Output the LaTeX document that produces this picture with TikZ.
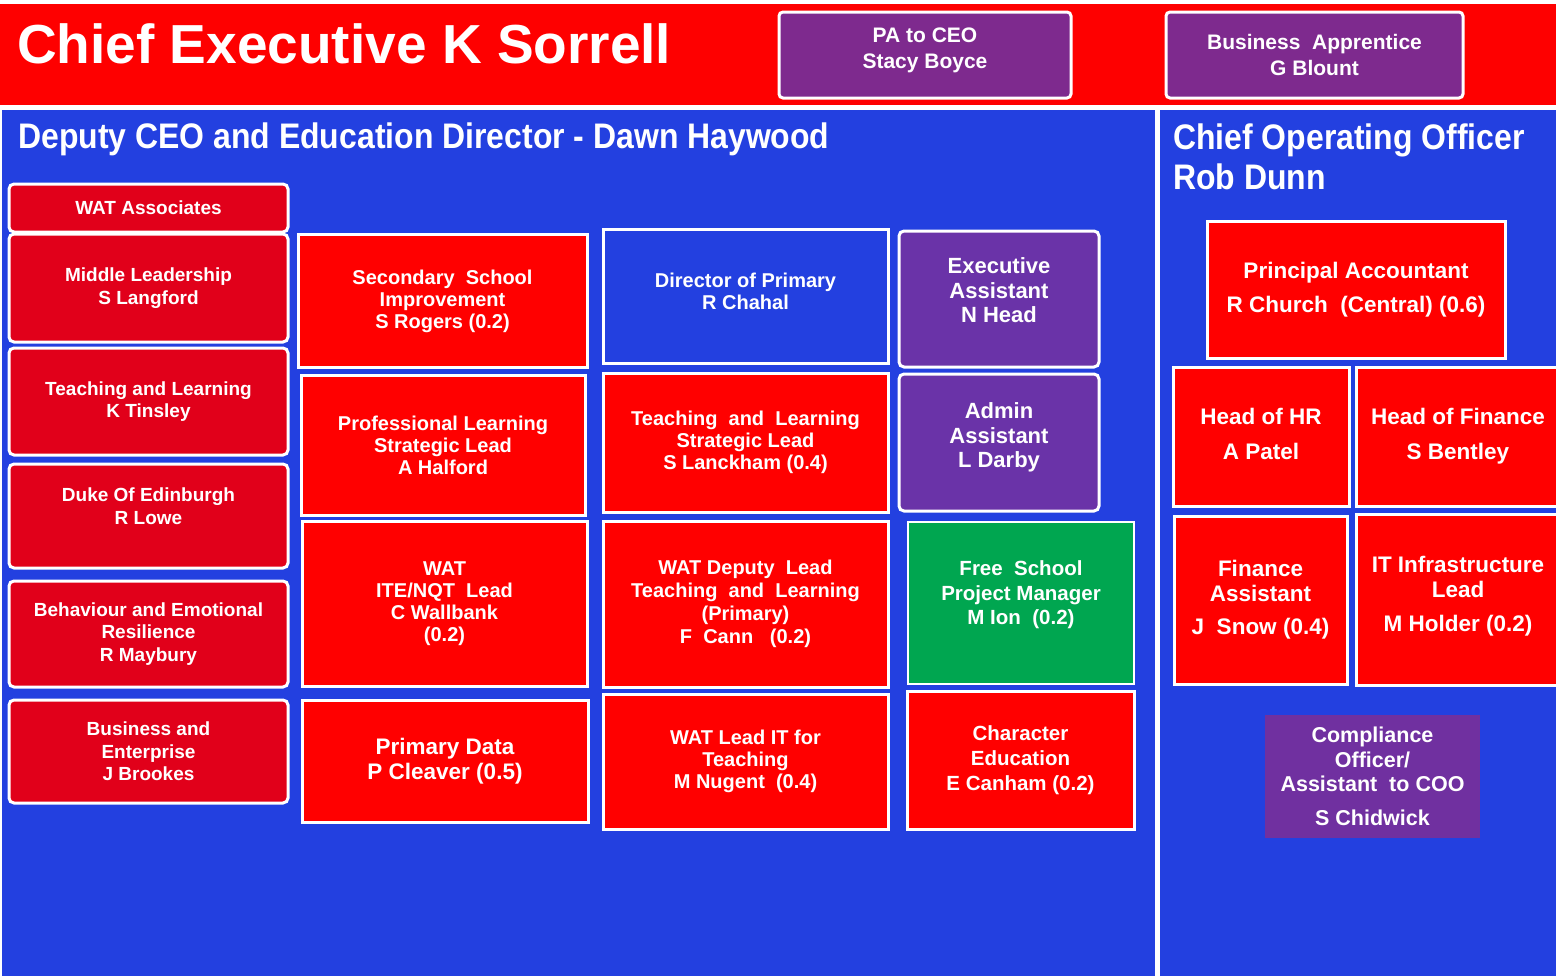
\documentclass[tikz,border=0pt]{standalone}
\usepackage{fontspec}
\setmainfont{Liberation Sans}
\newfontfamily\narrowfont{Liberation Sans}[FakeStretch=0.9]
\usetikzlibrary{positioning}

\definecolor{bandred}{HTML}{FE0000}
\definecolor{panelblue}{HTML}{2340E0}
\definecolor{crimson}{HTML}{E1001A}
\definecolor{boxred}{HTML}{FF0000}
\definecolor{plum}{HTML}{7E2A8E}
\definecolor{asstviolet}{HTML}{6A33A8}
\definecolor{schoolgreen}{HTML}{00A650}
\definecolor{coopurple}{HTML}{7030A0}

\tikzset{
  boxsize/.style 2 args={minimum width=#1pt, minimum height=#2pt},
  lift/.style={text depth=#1pt},
  box/.style={draw=white, line width=3pt, text=white, align=center, inner sep=0pt,
              font=\bfseries\fontsize{20}{22}\selectfont},
  leftbox/.style={box, fill=crimson, rounded corners=5pt, font=\bfseries\fontsize{19}{22.5}\selectfont},
  redbox/.style={box, fill=boxred},
  bluebox/.style={box, fill=panelblue},
  asstbox/.style={box, fill=asstviolet, rounded corners=5pt, font=\bfseries\fontsize{22}{24.5}\selectfont},
  topbox/.style={box, fill=plum, rounded corners=4pt, font=\bfseries\fontsize{21}{26}\selectfont},
  coobox/.style={box, fill=boxred, font=\bfseries\fontsize{22.5}{25}\selectfont},
  heading/.style={text=white, inner sep=0pt, anchor=base west,
                  font=\narrowfont\bfseries\fontsize{35.5}{40}\selectfont},
}

\begin{document}
\begin{tikzpicture}[x=1pt, y=-1pt]
  \useasboundingbox (0,0) rectangle (1556,980);
  % background bands
  \fill[white] (0,0) rectangle (1556,980);
  \fill[bandred] (0,4) rectangle (1556,105);
  \fill[panelblue] (2,110) rectangle (1155,976);
  \fill[panelblue] (1160,110) rectangle (1556,976);

  % chief executive band
  \node[anchor=base west, inner sep=0pt, text=white, font=\bfseries\fontsize{55}{60}\selectfont]
    (ceo) at (17,63) {Chief Executive K Sorrell};
  \node[topbox, boxsize={292}{86}, lift=14] (pa) at (925,55) {PA to CEO\\Stacy Boyce};
  \node[topbox, boxsize={297}{86}] (apprentice) at (1314.5,55) {Business~~Apprentice\\G Blount};

  % headings
  \node[heading] (deputy) at (18,148) {Deputy CEO and Education Director - Dawn Haywood};
  \node[heading] (cootitle) at (1173,149) {Chief Operating Officer};
  \node[heading] (cooname) at (1173,189) {Rob Dunn};

  % left column
  \node[leftbox, boxsize={279}{48}] (associates) at (148.5,208) {WAT Associates};
  \node[leftbox, boxsize={279}{108}] (middle) at (148.5,288) {Middle Leadership\\S Langford};
  \node[leftbox, boxsize={279}{107}] (tinsley) at (148.5,401.5) {Teaching and Learning\\K Tinsley};
  \node[leftbox, boxsize={279}{104}, lift=20] (duke) at (148.5,516) {Duke Of Edinburgh\\R Lowe};
  \node[leftbox, boxsize={279}{106}] (behaviour) at (148.5,634) {Behaviour and Emotional\\Resilience\\R Maybury};
  \node[leftbox, boxsize={279}{103}] (enterprise) at (148.5,751.5) {Business and\\Enterprise\\J Brookes};

  % second column
  \node[redbox, boxsize={289}{133}] (secondary) at (442.5,301) {Secondary~~School\\Improvement\\S Rogers (0.2)};
  \node[redbox, boxsize={284}{140}] (halford) at (443,445) {Professional Learning\\Strategic Lead\\A Halford};
  \node[redbox, boxsize={285}{165}] (itenqt) at (444.5,603.5) {WAT\\ITE/NQT~~Lead\\C Wallbank\\(0.2)};
  \node[redbox, boxsize={286}{122}, font=\bfseries\fontsize{22.5}{25}\selectfont]
    (primdata) at (445,761) {Primary Data\\P Cleaver (0.5)};

  % third column
  \node[bluebox, boxsize={285}{134}, lift=10] (dirprimary) at (745.5,296) {Director of Primary\\R Chahal};
  \node[redbox, boxsize={285}{139}] (lanckham) at (745.5,442.5) {Teaching~ and~ Learning\\Strategic Lead\\S Lanckham (0.4)};
  \node[redbox, boxsize={285}{166}, font=\bfseries\fontsize{20}{23}\selectfont]
    (cann) at (745.5,604) {WAT Deputy~ Lead\\Teaching~ and~ Learning\\(Primary)\\F~ Cann~~ (0.2)};
  \node[redbox, boxsize={285}{135}] (nugent) at (745.5,761.5) {WAT Lead IT for\\Teaching\\M Nugent~ (0.4)};

  % fourth column
  \node[asstbox, boxsize={200}{136}, lift=17] (execasst) at (999,299) {Executive\\Assistant\\N Head};
  \node[asstbox, boxsize={200}{137}, lift=14] (adminasst) at (999,442.5) {Admin\\Assistant\\L Darby};
  \node[box, fill=schoolgreen, line width=2pt, boxsize={226}{162}, lift=20, font=\bfseries\fontsize{20.5}{24.5}\selectfont]
    (freeschool) at (1021,603) {Free~ School\\Project Manager\\M Ion~ (0.2)};
  \node[redbox, boxsize={227}{138}, font=\bfseries\fontsize{20.5}{25}\selectfont]
    (character) at (1020.5,760) {Character\\Education\\E Canham (0.2)};

  % chief operating officer column
  \node[coobox, boxsize={298}{137}] (accountant) at (1356,289.5) {Principal Accountant\\[9pt]R Church~ (Central) (0.6)};
  \node[coobox, boxsize={176}{139}, lift=6] (hr) at (1261,436.5) {Head of HR\\[10pt]A Patel};
  \node[coobox, boxsize={204}{139}] (finance) at (1458,436.5) {Head of Finance\\[10pt]S Bentley};
  \node[coobox, boxsize={173}{168}] (finasst) at (1260.5,600) {Finance\\Assistant\\[8pt]J~ Snow (0.4)};
  \node[coobox, boxsize={204}{171}, lift=12] (itinfra) at (1458,599.5) {IT Infrastructure\\Lead\\[9pt]M Holder (0.2)};
  \node[box, draw=none, fill=coopurple, boxsize={215}{123}, font=\bfseries\fontsize{21.5}{24.5}\selectfont]
    (compliance) at (1372.5,776.5) {Compliance\\Officer/\\Assistant~ to COO\\[9pt]S Chidwick};
\end{tikzpicture}
\end{document}
